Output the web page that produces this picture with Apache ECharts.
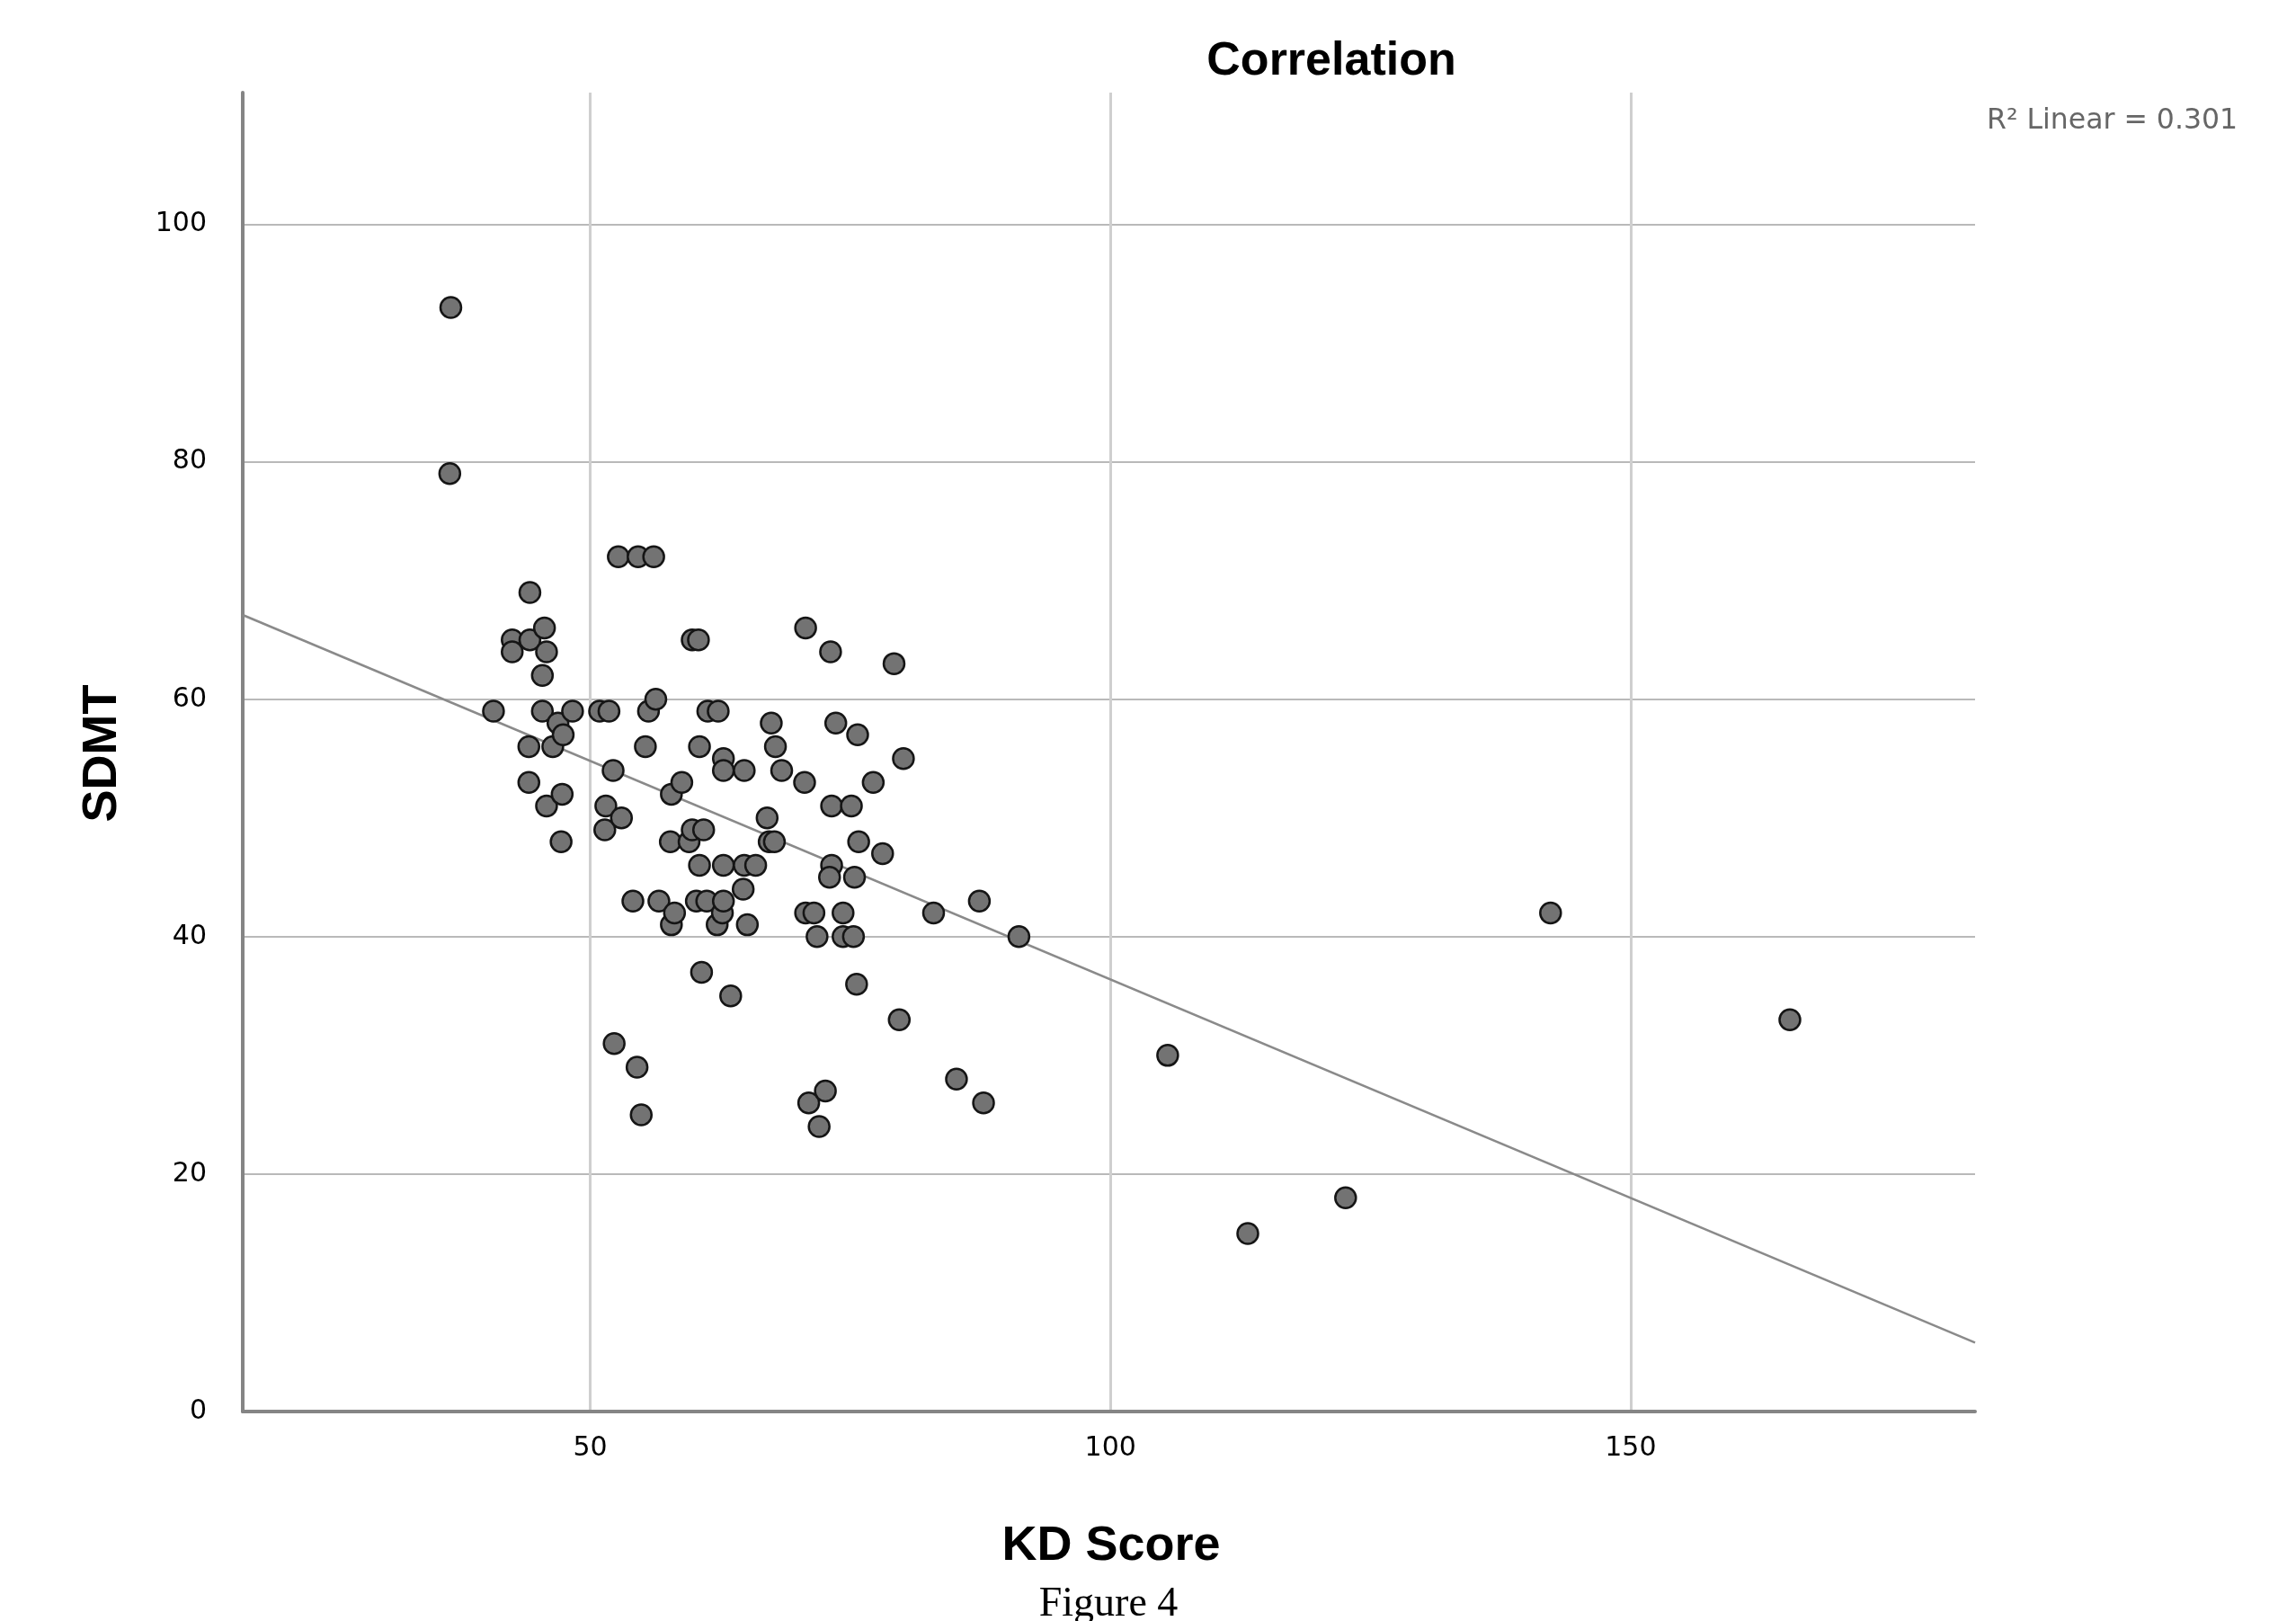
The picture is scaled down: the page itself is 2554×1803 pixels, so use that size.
<!DOCTYPE html>
<html>
<head>
<meta charset="utf-8">
<script src="https://cdn.jsdelivr.net/npm/echarts@6/dist/echarts.min.js"></script>
<style>
html,body{margin:0;padding:0;background:#fff;}
#chart{width:2554px;height:1803px;}
</style>
</head>
<body>
<div id="chart"></div>
<script>
// KD Score (x) and SDMT (y) values
const kdScore = [36.6,36.5,40.7,42.5,42.5,44.2,44.2,44.1,44.1,45.6,45.8,45.4,45.4,45.8,46.4,46.9,47.4,47.3,47.2,48.3,
  50.9,51.8,51.5,51.4,52.2,53.0,52.7,54.6,56.1,52.3,54.5,54.9,54.1,55.3,55.6,56.3,56.6,57.8,57.7,57.8,
  58.1,58.8,59.5,59.8,59.8,60.4,60.5,60.2,60.5,60.9,60.7,61.3,61.2,62.3,62.2,62.8,62.8,62.8,62.7,62.8,
  63.5,64.7,64.8,64.8,65.1,65.9,67.0,67.2,67.7,67.4,67.8,68.4,70.7,70.6,70.7,71.5,71.0,71.8,72.0,72.6,
  73.1,73.2,73.2,73.0,73.6,74.3,74.3,75.1,75.4,75.3,75.7,75.8,75.6,77.2,78.1,79.2,80.1,79.7,83.0,85.2,
  87.4,87.8,91.2,105.5,113.2,122.6,142.3,165.3];
const sdmt = [93,79,59,65,64,69,65,56,53,66,64,62,59,51,56,58,57,52,48,59,
  59,59,51,49,54,50,72,72,72,31,29,25,43,56,59,60,43,52,48,41,
  42,53,48,49,65,65,56,43,46,49,37,59,43,59,41,46,55,54,42,43,
  35,44,54,46,41,46,50,48,48,58,56,54,66,53,42,42,26,40,24,27,
  64,51,46,45,58,42,40,51,45,40,57,48,36,53,47,63,55,33,42,28,
  43,26,40,30,15,18,42,33];
// Linear fit line end points
const fitX = [16.6, 183.1];
const fitY = [67.1, 5.8];
const xTicks = [50, 100, 150];
const yTicks = [0, 20, 40, 60, 80, 100];
const xRange = [16.6, 183.1];
const yRange = [0, 111.1];

const points = kdScore.map((x, i) => [x, sdmt[i]]);
const fitData = fitX.map((x, i) => [x, fitY[i]]);

const chart = echarts.init(document.getElementById('chart'), null, {renderer: 'canvas'});
const tickFont = {fontFamily: 'DejaVu Sans', fontSize: 30, color: '#000'};

chart.setOption({
  animation: false,
  backgroundColor: '#fff',
  grid: {left: 270, right: 357, top: 103, bottom: 233, containLabel: false},
  xAxis: {
    type: 'value', min: xRange[0], max: xRange[1],
    axisLine: {show: true, onZero: false, lineStyle: {color: '#858585', width: 4}},
    axisTick: {show: false, customValues: xTicks},
    axisLabel: Object.assign({customValues: xTicks, margin: 26}, tickFont),
    splitLine: {show: true, lineStyle: {color: '#cfcfcf', width: 3}}
  },
  yAxis: {
    type: 'value', min: yRange[0], max: yRange[1],
    axisLine: {show: true, onZero: false, lineStyle: {color: '#858585', width: 4}},
    axisTick: {show: false, customValues: yTicks},
    axisLabel: Object.assign({customValues: yTicks, margin: 40}, tickFont),
    splitLine: {show: true, lineStyle: {color: '#b9b9b9', width: 2}}
  },
  title: {
    text: 'Correlation', left: 1476, top: 38, textAlign: 'center',
    textStyle: {fontFamily: 'Liberation Sans', fontWeight: 'bold', fontSize: 52, color: '#000'}
  },
  graphic: [
    {type: 'text', x: 2210, y: 135, style: {text: 'R\u00b2 Linear = 0.301', font: '31.5px "DejaVu Sans"', fill: '#666', align: 'left', verticalAlign: 'middle'}},
    {type: 'text', x: 114, y: 838, rotation: Math.PI / 2, style: {text: 'SDMT', font: 'bold 54px "Liberation Sans"', fill: '#000', align: 'center', verticalAlign: 'middle'}},
    {type: 'text', x: 1236, y: 1720, style: {text: 'KD Score', font: 'bold 54px "Liberation Sans"', fill: '#000', align: 'center', verticalAlign: 'middle'}},
    {type: 'text', x: 1233, y: 1785, style: {text: 'Figure 4', font: '46px "Liberation Serif"', fill: '#000', align: 'center', verticalAlign: 'middle'}}
  ],
  series: [
    {
      type: 'line', data: fitData, symbol: 'none', silent: true, z: 3,
      lineStyle: {color: '#8a8a8a', width: 2.5}
    },
    {
      type: 'scatter', data: points, symbol: 'circle', symbolSize: 23, z: 4,
      itemStyle: {color: '#737373', borderColor: '#151515', borderWidth: 2.5, opacity: 1}
    }
  ]
});
</script>
</body>
</html>
